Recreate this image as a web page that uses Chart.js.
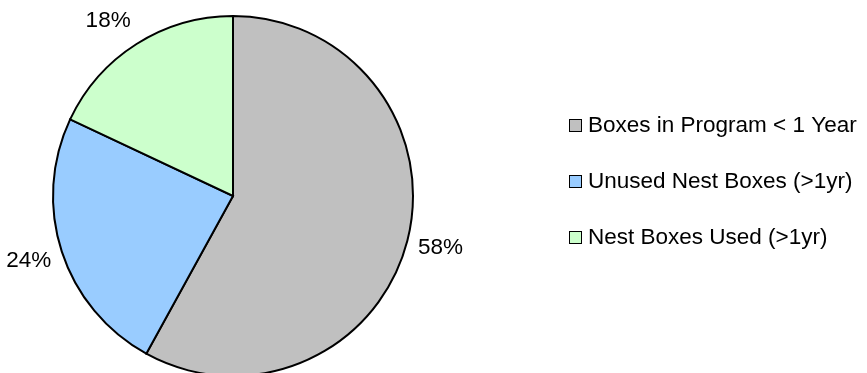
<!DOCTYPE html>
<html>
<head>
<meta charset="utf-8">
<script src="https://cdn.jsdelivr.net/npm/chart.js@4/dist/chart.umd.min.js"></script>
<style>
  html, body { margin: 0; padding: 0; background: #fff; overflow: hidden; }
  #wrap { position: relative; width: 867px; height: 392px; }
</style>
</head>
<body>
<div id="wrap"><canvas id="c"></canvas></div>
<script>
// Nest box programme breakdown (percent of all boxes)
const categories = ['Boxes in Program < 1 Year', 'Unused Nest Boxes (>1yr)', 'Nest Boxes Used (>1yr)'];
const shares = [58, 24, 18];
const sliceColors = ['#C0C0C0', '#99CCFF', '#CCFFCC'];

const FONT = '"Liberation Sans", Arial, sans-serif';
const FONT_SIZE = 22.5;

// Percent labels at the outside end of each slice: the label box sits just
// beyond the rim on the slice bisector, pushed out by its own half-size.
const outsideLabels = {
  id: 'outsideLabels',
  afterDatasetsDraw(chart) {
    const ctx = chart.ctx;
    const meta = chart.getDatasetMeta(0);
    const ds = chart.data.datasets[0];
    const total = ds.data.reduce((a, b) => a + b, 0);
    const clamp = v => Math.max(-1, Math.min(1, v));
    ctx.save();
    ctx.font = FONT_SIZE + 'px ' + FONT;
    ctx.fillStyle = '#000';
    ctx.textAlign = 'center';
    ctx.textBaseline = 'middle';
    meta.data.forEach((arc, i) => {
      const p = arc.getProps(['x', 'y', 'startAngle', 'endAngle', 'outerRadius'], true);
      const mid = (p.startAngle + p.endAngle) / 2;
      const dx = Math.cos(mid), dy = Math.sin(mid);
      const text = Math.round(ds.data[i] / total * 100) + '%';
      const halfW = ctx.measureText(text).width / 2;
      const halfH = FONT_SIZE * 0.55;
      const d = p.outerRadius + 11;
      const cx = p.x + dx * d + clamp(dx * 2) * halfW;
      const cy = p.y + dy * d + clamp(dy * 2) * halfH - 2;
      ctx.fillText(text, cx, cy);
    });
    ctx.restore();
  }
};

// Legend to the right of the pie
const sideLegend = {
  id: 'sideLegend',
  afterDraw(chart) {
    const ctx = chart.ctx;
    const ds = chart.data.datasets[0];
    const x0 = 569, y0 = 125, step = 56, box = 12;
    ctx.save();
    ctx.font = FONT_SIZE + 'px ' + FONT;
    ctx.textBaseline = 'middle';
    ctx.textAlign = 'left';
    chart.data.labels.forEach((lab, i) => {
      const y = Math.round(y0 + i * step);
      const top = y - box / 2;
      ctx.fillStyle = ds.backgroundColor[i];
      ctx.fillRect(x0 + 0.5, top + 0.5, box, box);
      ctx.strokeStyle = '#000';
      ctx.lineWidth = 1;
      ctx.strokeRect(x0 + 0.5, top + 0.5, box, box);
      ctx.fillStyle = '#000';
      ctx.fillText(lab, x0 + box + 7, y + 1);
    });
    ctx.restore();
  }
};

new Chart(document.getElementById('c'), {
  type: 'pie',
  data: {
    labels: categories,
    datasets: [{
      data: shares,
      backgroundColor: sliceColors,
      borderColor: '#000',
      borderWidth: 2,
      borderJoinStyle: 'miter'
    }]
  },
  options: {
    responsive: true,
    maintainAspectRatio: false,
    animation: false,
    events: [],
    layout: { padding: { left: 52, right: 453, top: 15, bottom: 15 } },
    plugins: {
      legend: { display: false },
      tooltip: { enabled: false }
    }
  },
  plugins: [outsideLabels, sideLegend]
});
</script>
</body>
</html>
